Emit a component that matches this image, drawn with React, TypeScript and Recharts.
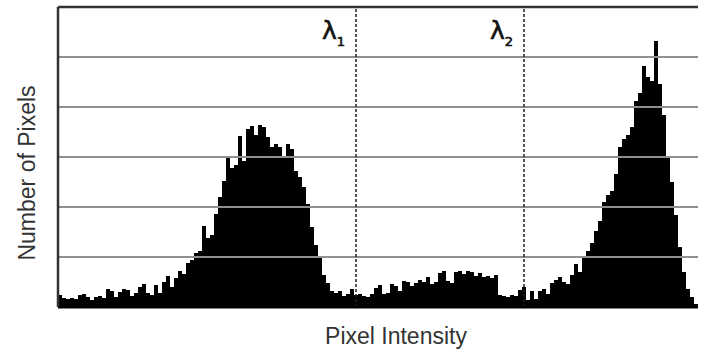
import React from 'react';
import { BarChart, Bar, XAxis, YAxis, CartesianGrid, ReferenceLine } from 'recharts';

// histogram counts, one per intensity bin
const pixelCounts = [
  12, 9, 8, 9, 8, 12, 13, 10, 7, 10,
  11, 9, 18, 16, 10, 15, 18, 17, 11, 14,
  20, 23, 14, 12, 22, 14, 25, 31, 20, 29,
  36, 33, 44, 47, 54, 56, 81, 69, 72, 93,
  110, 126, 151, 139, 142, 171, 146, 178, 181, 172,
  182, 180, 170, 160, 163, 160, 149, 163, 158, 136,
  130, 120, 103, 80, 62, 50, 32, 24, 16, 14,
  16, 11, 13, 18, 12, 13, 11, 10, 13, 19,
  22, 13, 14, 23, 21, 16, 26, 25, 21, 24,
  27, 25, 30, 23, 25, 34, 36, 26, 24, 35,
  36, 33, 36, 35, 31, 34, 30, 31, 29, 32,
  12, 11, 10, 12, 11, 17, 20, 7, 16, 8,
  16, 18, 13, 24, 27, 30, 25, 23, 32, 43,
  35, 50, 56, 64, 76, 86, 105, 112, 116, 133,
  160, 168, 172, 180, 206, 214, 241, 230, 226, 266,
  223, 192, 150, 125, 92, 60, 35, 18, 10, 3,
];

const gridValues = [50, 100, 150, 200, 250];
const yMax = 300;

// threshold positions (bin index) and their subscripts
const thresholdBins = [74, 116];
const thresholdNames = ['1', '2'];

const xTitle = 'Pixel Intensity';
const yTitle = 'Number of Pixels';

const data = pixelCounts.map((count, bin) => ({ bin, count }));

const titleStyle = { fontFamily: '"Liberation Sans", Arial, sans-serif', fontSize: 23, fill: '#333' };

const ThresholdLabel = ({ viewBox, name }: any) => {
  if (!viewBox) return null;
  return (
    <text
      x={viewBox.x - 34}
      y={viewBox.y + 32}
      style={{ fontFamily: '"DejaVu Sans", sans-serif', fontSize: 25, fill: '#111', stroke: '#111', strokeWidth: 0.6 }}
    >
      <tspan>λ</tspan>
      <tspan fontSize={13} dy={7}>{name}</tspan>
    </text>
  );
};

export default function App() {
  return (
    <div style={{ position: 'absolute', left: 0, top: 0, background: '#fff' }}>
      <BarChart
        width={701}
        height={355}
        data={data}
        margin={{ top: 7, right: 3, left: 0, bottom: 0 }}
        barCategoryGap={0}
        barGap={0}
      >
        <CartesianGrid vertical={false} horizontal={false} />
        <XAxis
          dataKey="bin"
          height={48}
          tick={false}
          tickLine={false}
          axisLine={{ stroke: '#000', strokeWidth: 3 }}
          label={{
            content: ({ viewBox }: any) =>
              viewBox ? (
                <text x={viewBox.x + viewBox.width / 2 + 18} y={viewBox.y + 37} textAnchor="middle" style={titleStyle}>
                  {xTitle}
                </text>
              ) : null,
          }}
        />
        <YAxis
          domain={[0, yMax]}
          ticks={[0, ...gridValues, yMax]}
          width={58}
          tick={false}
          tickLine={false}
          axisLine={{ stroke: '#333', strokeWidth: 2.5 }}
          label={{
            content: ({ viewBox }: any) => {
              if (!viewBox) return null;
              const x = viewBox.x + 35;
              const y = viewBox.y + viewBox.height / 2 + 16;
              return (
                <text x={x} y={y} transform={`rotate(-90, ${x}, ${y})`} textAnchor="middle" style={titleStyle}>
                  {yTitle}
                </text>
              );
            },
          }}
        />
        {gridValues.map((v) => (
          <ReferenceLine key={v} y={v} stroke="#8f8f8f" strokeWidth={2} />
        ))}
        <ReferenceLine y={yMax} stroke="#333" strokeWidth={2.5} />
        <Bar dataKey="count" fill="#000" isAnimationActive={false} />
        {thresholdBins.map((b, i) => (
          <ReferenceLine
            key={b}
            x={b}
            stroke="#222"
            strokeWidth={1.5}
            strokeDasharray="3 2"
            label={<ThresholdLabel name={thresholdNames[i]} />}
          />
        ))}
      </BarChart>
    </div>
  );
}
